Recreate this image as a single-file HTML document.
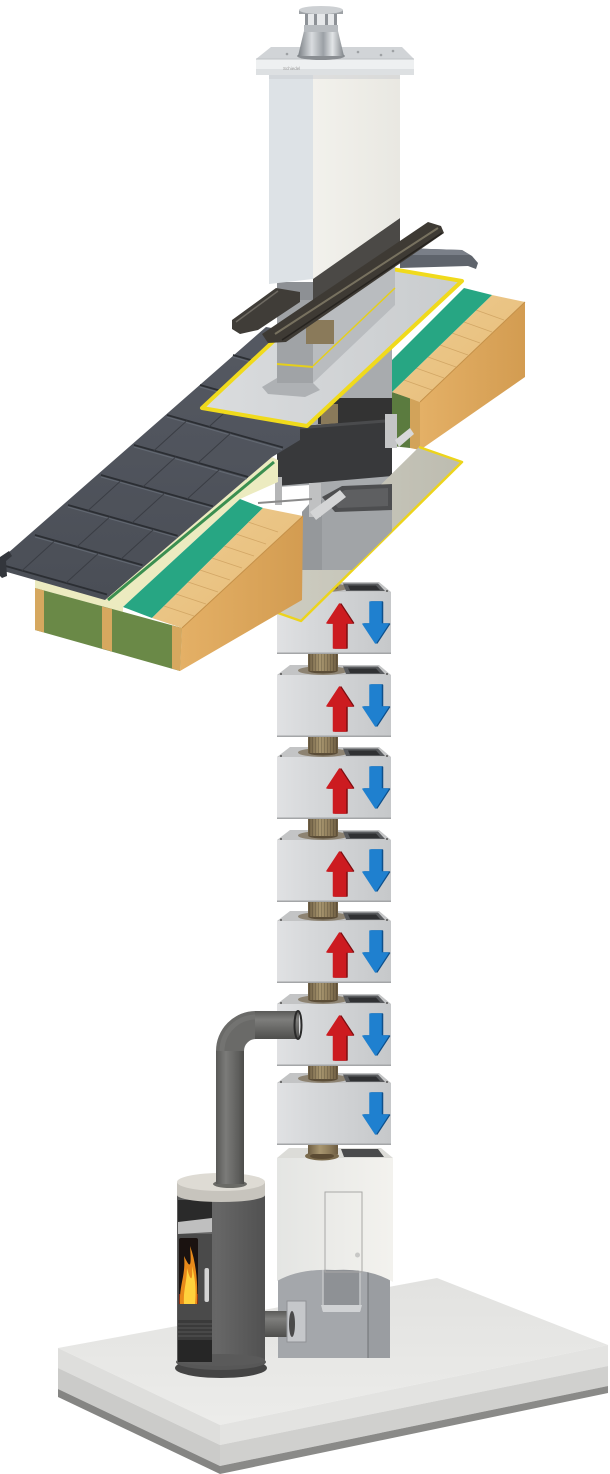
<!DOCTYPE html>
<html><head><meta charset="utf-8"><title>Chimney system</title>
<style>html,body{margin:0;padding:0;background:#fff;}svg{display:block;}</style></head>
<body>
<svg width="610" height="1474" viewBox="0 0 610 1474" xmlns="http://www.w3.org/2000/svg">
<defs>
<linearGradient id="gSlab" x1="0" y1="0" x2="0" y2="1"><stop offset="0" stop-color="#e2e2e0"/><stop offset="1" stop-color="#ececea"/></linearGradient>
<linearGradient id="gBlk" x1="0" y1="0" x2="1" y2="0"><stop offset="0" stop-color="#e0e1e3"/><stop offset=".3" stop-color="#d6d8da"/><stop offset="1" stop-color="#c6c8ca"/></linearGradient>
<linearGradient id="gPipe" x1="0" y1="0" x2="1" y2="0"><stop offset="0" stop-color="#6e5e43"/><stop offset=".4" stop-color="#a8966f"/><stop offset=".7" stop-color="#8f7d5b"/><stop offset="1" stop-color="#6b5b40"/></linearGradient>
<pattern id="rib" width="3" height="10" patternUnits="userSpaceOnUse"><rect width="1" height="10" fill="#000" opacity=".16"/></pattern>
<linearGradient id="gWoodTop" x1="0" y1="0" x2="1" y2="1"><stop offset="0" stop-color="#efcc90"/><stop offset="1" stop-color="#e5bb77"/></linearGradient>
<linearGradient id="gWoodFront" x1="0" y1="0" x2="1" y2="0"><stop offset="0" stop-color="#e4b066"/><stop offset="1" stop-color="#d39c51"/></linearGradient>
<linearGradient id="gBody" x1="0" y1="0" x2="1" y2="0"><stop offset="0" stop-color="#f2f1ec"/><stop offset="1" stop-color="#e9e8e2"/></linearGradient>
<linearGradient id="gCowl" x1="0" y1="0" x2="1" y2="0"><stop offset="0" stop-color="#7b8085"/><stop offset=".3" stop-color="#d9dcdf"/><stop offset=".55" stop-color="#9ba0a5"/><stop offset=".75" stop-color="#e2e5e7"/><stop offset="1" stop-color="#80858a"/></linearGradient>
<linearGradient id="gStove" x1="0" y1="0" x2="1" y2="0"><stop offset="0" stop-color="#5a5a5a"/><stop offset=".45" stop-color="#676767"/><stop offset="1" stop-color="#515151"/></linearGradient>
<linearGradient id="gPlate" x1="0" y1="0" x2="1" y2="0"><stop offset="0" stop-color="#dadcde"/><stop offset="1" stop-color="#c9ccce"/></linearGradient>
<linearGradient id="gLPlate" x1="0" y1="0" x2="1" y2="0"><stop offset="0" stop-color="#cfcec2"/><stop offset="1" stop-color="#bdbcb0"/></linearGradient>
<linearGradient id="gPH" x1="0" y1="0" x2="0" y2="1"><stop offset="0" stop-color="#5a5a58"/><stop offset=".3" stop-color="#7e7e7c"/><stop offset=".7" stop-color="#636361"/><stop offset="1" stop-color="#4e4e4c"/></linearGradient>
<linearGradient id="gPV" x1="0" y1="0" x2="1" y2="0"><stop offset="0" stop-color="#595957"/><stop offset=".35" stop-color="#7b7b79"/><stop offset=".8" stop-color="#5e5e5c"/><stop offset="1" stop-color="#4c4c4a"/></linearGradient>
<linearGradient id="gWhite" x1="0" y1="0" x2="1" y2="0"><stop offset="0" stop-color="#e4e5e3"/><stop offset="1" stop-color="#f3f2ee"/></linearGradient>
<linearGradient id="gTiles" x1="0" y1="0" x2="0" y2="1"><stop offset="0" stop-color="#555962"/><stop offset="1" stop-color="#4a4e56"/></linearGradient>

<g id="blk">
 <polygon points="277,10 290,0 379,0 391,10" fill="#c3c4c5"/>
 <ellipse cx="323" cy="5.5" rx="25" ry="4.5" fill="#8d8372"/>
 <ellipse cx="323" cy="5.5" rx="15" ry="3" fill="#5b4d37"/>
 <polygon points="343,1.5 378,1.5 385,9 346,9" fill="#595b5e"/>
 <polygon points="348,3.5 376,3.5 380,8 350,8" fill="#303133"/>
 <circle cx="281" cy="9" r="1" fill="#555"/><circle cx="387" cy="9" r="1" fill="#555"/>
 <rect x="277" y="10" width="114" height="62" fill="url(#gBlk)"/>
 <rect x="277" y="70.5" width="114" height="1.5" fill="#a4a6a8"/>
</g>
<g id="ra">
 <polygon points="341,22 353.5,41 347,41 347,66 335,66 335,41 328.5,41" fill="#7d0d10" stroke="#7d0d10" stroke-width="1.5" stroke-linejoin="round"/>
 <polygon points="339.5,22 352,41 345.5,41 345.5,66 333.5,66 333.5,41 327,41" fill="#cc1b20" stroke="#cc1b20" stroke-width="1.5" stroke-linejoin="round"/>
</g>
<g id="ba">
 <polygon points="371.5,20 382.5,20 382.5,42 389.5,42 377,61 364.5,42 371.5,42" fill="#0e4f8a" stroke="#0e4f8a" stroke-width="1.5" stroke-linejoin="round"/>
 <polygon points="370,20 381,20 381,42 388,42 375.5,61 363,42 370,42" fill="#1f80cf" stroke="#1f80cf" stroke-width="1.5" stroke-linejoin="round"/>
</g>
</defs>

<!-- Floor slab -->
<polygon points="58,1348 437,1278 608,1345 220,1425" fill="url(#gSlab)"/>
<polygon points="58,1348 220,1425 220,1445 58,1368" fill="#dededc"/>
<polygon points="58,1368 220,1445 220,1466 58,1389" fill="#cbcbc9"/>
<polygon points="58,1389 220,1466 220,1474 58,1397" fill="#858583"/>
<polygon points="220,1425 608,1345 608,1366 220,1445" fill="#e3e3e1"/>
<polygon points="220,1445 608,1366 608,1386 220,1466" fill="#d0d0ce"/>
<polygon points="220,1466 608,1386 608,1393 220,1474" fill="#8a8a88"/>

<!-- Base block (cleanout) -->
<rect x="278" y="1262" width="112" height="96" fill="#a4a7ab"/>
<rect x="368" y="1262" width="22" height="96" fill="#9a9da1"/>
<line x1="368" y1="1262" x2="368" y2="1358" stroke="#6f7275" stroke-width="1"/>
<rect x="323" y="1265" width="37" height="45" fill="#8e9195" stroke="#c4c6c8" stroke-width="1.5"/>
<polygon points="321,1305 362,1305 360,1312 323,1312" fill="#d0d2d4"/>
<path d="M277,1158 L393,1158 L393,1282 Q370,1268 335,1270 Q300,1268 277,1281 Z" fill="url(#gWhite)"/>
<polygon points="277,1158 289,1148 381,1148 393,1158" fill="#dcdcd8"/>
<ellipse cx="322" cy="1156" rx="17" ry="4.5" fill="#7a6a4c"/>
<ellipse cx="322" cy="1156" rx="12" ry="3" fill="#5b4b33"/>
<polygon points="341,1149 378,1149 384,1157 344,1157" fill="#4a4b4c"/>
<rect x="325" y="1192" width="37" height="80" fill="none" stroke="#a8a8a6" stroke-width="1"/>
<circle cx="357.5" cy="1255" r="2.5" fill="#c8c8c6"/>

<!-- stove to base pipe -->
<rect x="262" y="1311" width="30" height="26" fill="url(#gPH)"/>
<rect x="287" y="1301" width="19" height="41" fill="#c5c7ca" stroke="#8f9295" stroke-width="1"/>
<ellipse cx="292" cy="1324" rx="3" ry="13" fill="#4a4a4a"/>

<!-- Stove -->
<ellipse cx="221" cy="1368" rx="46" ry="10" fill="#444"/>
<ellipse cx="221" cy="1362" rx="45" ry="8" fill="#575757"/>
<rect x="177" y="1190" width="88" height="170" fill="url(#gStove)"/>
<ellipse cx="221" cy="1360" rx="44" ry="6" fill="#5a5a5a"/>
<rect x="178" y="1200" width="34" height="30" fill="#2a2a2a"/>
<polygon points="178,1222 212,1218 212,1232 178,1234" fill="#bfbfbf"/>
<rect x="178" y="1234" width="34" height="86" fill="#4a4a4a"/>
<rect x="179" y="1238" width="19" height="66" rx="2" fill="#1a1210"/>
<rect x="179" y="1294" width="19" height="10" fill="#8a2a10"/>
<path d="M180,1304 C179,1285 186,1275 184,1256 C189,1266 192,1272 190,1246 C196,1262 198,1282 197,1304 Z" fill="#e88a1a"/>
<path d="M184,1304 C183,1290 187,1282 187,1268 C190,1280 193,1284 192,1266 C196,1282 196,1292 195,1304 Z" fill="#ffd23c"/>
<rect x="204.5" y="1268" width="4.5" height="34" rx="2" fill="#d3d3d3"/>
<rect x="178" y="1320" width="34" height="20" fill="#3a3a3a"/>
<g stroke="#555" stroke-width="1"><line x1="178" y1="1324" x2="212" y2="1324"/><line x1="178" y1="1328" x2="212" y2="1328"/><line x1="178" y1="1332" x2="212" y2="1332"/><line x1="178" y1="1336" x2="212" y2="1336"/></g>
<rect x="178" y="1340" width="34" height="22" fill="#262626"/>
<path d="M177,1182 L177,1195 A44,7 0 0 0 265,1195 L265,1182 Z" fill="#c7c4bd"/>
<ellipse cx="221" cy="1182" rx="44" ry="9" fill="#dedbd4"/>
<ellipse cx="230" cy="1184" rx="17" ry="4" fill="#6a6a66"/>

<!-- Blocks -->
<use href="#blk" transform="translate(0,582)"/>
<use href="#blk" transform="translate(0,665)"/>
<use href="#blk" transform="translate(0,747)"/>
<use href="#blk" transform="translate(0,830)"/>
<use href="#blk" transform="translate(0,911)"/>
<use href="#blk" transform="translate(0,994)"/>
<use href="#blk" transform="translate(0,1073)"/>
<use href="#ra" transform="translate(0,582)"/><use href="#ba" transform="translate(0,582)"/>
<use href="#ra" transform="translate(0,665)"/><use href="#ba" transform="translate(0,665)"/>
<use href="#ra" transform="translate(0,747)"/><use href="#ba" transform="translate(0,747)"/>
<use href="#ra" transform="translate(0,830)"/><use href="#ba" transform="translate(0,830)"/>
<use href="#ra" transform="translate(0,911)"/><use href="#ba" transform="translate(0,911)"/>
<use href="#ra" transform="translate(0,994)"/><use href="#ba" transform="translate(0,994)"/>
<use href="#ba" transform="translate(0,1073)"/>

<!-- flue pipes between blocks -->
<g>
<rect x="308" y="654" width="30" height="17" fill="url(#gPipe)"/><rect x="308" y="654" width="30" height="17" fill="url(#rib)"/>
<rect x="308" y="737" width="30" height="16" fill="url(#gPipe)"/><rect x="308" y="737" width="30" height="16" fill="url(#rib)"/>
<rect x="308" y="819" width="30" height="17" fill="url(#gPipe)"/><rect x="308" y="819" width="30" height="17" fill="url(#rib)"/>
<rect x="308" y="902" width="30" height="15" fill="url(#gPipe)"/><rect x="308" y="902" width="30" height="15" fill="url(#rib)"/>
<rect x="308" y="983" width="30" height="17" fill="url(#gPipe)"/><rect x="308" y="983" width="30" height="17" fill="url(#rib)"/>
<rect x="308" y="1066" width="30" height="13" fill="url(#gPipe)"/><rect x="308" y="1066" width="30" height="13" fill="url(#rib)"/>
<rect x="308" y="1145" width="30" height="9" fill="url(#gPipe)"/>
<rect x="308" y="568" width="30" height="20" fill="url(#gPipe)"/><rect x="308" y="568" width="30" height="20" fill="url(#rib)"/>
</g>

<!-- connector pipe stove -> block 6 -->
<rect x="216" y="1050" width="28" height="134" fill="url(#gPV)"/>
<path d="M256,1025 A26,26 0 0 0 230,1051" fill="none" stroke="#6a6a68" stroke-width="28"/>
<path d="M256,1017 A34,34 0 0 0 222,1051" fill="none" stroke="#7a7a78" stroke-width="5" opacity=".6"/>
<rect x="255" y="1011" width="44" height="28" fill="url(#gPH)"/>
<ellipse cx="298" cy="1025" rx="3.5" ry="14" fill="none" stroke="#2a2a2a" stroke-width="2"/>

<!-- Column background inside roof -->
<rect x="277" y="283" width="115" height="222" fill="#a8abae"/>

<!-- right roof parts -->
<polygon points="392,392 410,398 410,448 392,446" fill="#5b7b3f"/>
<polygon points="410,398 420,402 420,450 410,448" fill="#d2a35a"/>
<polygon points="420,402 525,302 525,377 420,450" fill="url(#gWoodFront)"/>
<polygon points="392,392 492,295 525,302 420,402" fill="url(#gWoodTop)"/>
<g stroke="#c89a58" stroke-width=".8" opacity=".7">
<line x1="404" y1="380" x2="432" y2="390"/><line x1="416" y1="368" x2="444" y2="378"/><line x1="428" y1="357" x2="456" y2="367"/><line x1="440" y1="345" x2="468" y2="355"/><line x1="452" y1="333" x2="480" y2="343"/><line x1="464" y1="322" x2="492" y2="332"/><line x1="476" y1="310" x2="504" y2="320"/>
</g>
<line x1="420" y1="402" x2="525" y2="302" stroke="#c5914a" stroke-width="1"/>
<polygon points="392,360 464,288 492,295 392,392" fill="#27a683"/>

<!-- insulation area -->
<rect x="318" y="398" width="74" height="26" fill="#333"/>
<rect x="321" y="404" width="17" height="22" fill="#8a7a5a"/>
<polygon points="277,428 392,419 392,476 277,486" fill="#38393b"/>
<polygon points="277,428 392,419 392,422 277,431" fill="#4a4b4d"/>
<rect x="385" y="414" width="12" height="34" fill="#c4c5c6"/>
<polygon points="395,440 410,428 414,434 399,447" fill="#d8d9da"/>

<!-- lower plate -->
<polygon points="258,606 301,621 462,462 419,447" fill="url(#gLPlate)"/>
<polyline points="258,606 301,621 462,462 419,447" fill="none" stroke="#ecd41c" stroke-width="2.5" stroke-linejoin="round"/>

<!-- lower column front over plate -->
<polygon points="302,505 392,484 392,531 352,570 302,570" fill="#a1a4a7"/>
<polygon points="302,505 322,500 322,570 302,570" fill="#95989b"/>
<polygon points="322,497 342,486 392,484 392,510 335,512" fill="#4d4e50"/>
<polygon points="330,498 345,490 388,488 388,506 338,508" fill="#5e5f61"/>
<polygon points="279,487 310,485 310,503 300,514 268,508 279,500" fill="#ffffff"/>
<rect x="275" y="477" width="7" height="28" fill="#b5b6b7"/>
<rect x="309" y="483" width="12" height="34" fill="#c0c1c2"/>
<line x1="258" y1="503" x2="312" y2="499" stroke="#8a8a8a" stroke-width="2"/>
<polygon points="310,512 340,490 346,497 316,520" fill="#d4d5d6"/>

<!-- left roof layers -->
<polygon points="35,576 103,597 272,457 278,460 278,482 240,499 123,607 123,612 35,588" fill="#ecebc0"/>
<line x1="108" y1="600" x2="274" y2="462" stroke="#3b8f50" stroke-width="3"/>
<polygon points="35,588 182,628 180,671 35,630" fill="#6a8947"/>
<polygon points="35,588 44,590.5 44,632.5 35,630" fill="#d6a85f"/>
<polygon points="102,606.5 112,609 112,651.5 102,648.5" fill="#d6a85f"/>
<polygon points="172,625.5 182,628 180,671 172,668.5" fill="#d6a85f"/>
<polygon points="123,607 240,499 263,508 152,618" fill="#27a683"/>
<polygon points="152,618 263,508 303,516 182,628" fill="url(#gWoodTop)"/>
<g stroke="#c89a58" stroke-width=".8" opacity=".7">
<line x1="164" y1="606" x2="194" y2="616"/><line x1="176" y1="594" x2="206" y2="604"/><line x1="188" y1="582" x2="218" y2="592"/><line x1="200" y1="570" x2="230" y2="580"/><line x1="212" y1="558" x2="242" y2="568"/><line x1="224" y1="546" x2="254" y2="556"/><line x1="236" y1="534" x2="266" y2="544"/><line x1="248" y1="522" x2="278" y2="532"/>
</g>
<polygon points="182,628 303,516 302,600 180,671" fill="url(#gWoodFront)"/>
<line x1="182" y1="628" x2="303" y2="516" stroke="#c5914a" stroke-width="1"/>

<!-- tiles -->
<polygon points="0,560 266,327 300,333 300,440 272,457 105,600 0,570" fill="url(#gTiles)"/>
<g stroke="#2b2e33" stroke-width="1.8">
<line x1="2" y1="565" x2="107" y2="594.5"/>
<line x1="35" y1="535" x2="142.4" y2="565.1"/>
<line x1="68" y1="505" x2="177.6" y2="535.7"/>
<line x1="101" y1="475" x2="212.8" y2="506.3"/>
<line x1="134" y1="445" x2="248" y2="476.9"/>
<line x1="167" y1="415" x2="283" y2="447.5"/>
<line x1="200" y1="385" x2="300" y2="413"/>
<line x1="233" y1="355" x2="300" y2="373.8"/>
</g>
<g stroke="#6b727c" stroke-width="1" opacity=".7">
<line x1="35" y1="537" x2="142" y2="567"/><line x1="68" y1="507" x2="177" y2="537.5"/><line x1="101" y1="477" x2="212" y2="508"/><line x1="134" y1="447" x2="247" y2="479"/><line x1="167" y1="417" x2="282" y2="449.5"/><line x1="200" y1="387" x2="300" y2="415"/><line x1="233" y1="357" x2="300" y2="376"/>
</g>
<g stroke="#3a3d44" stroke-width="1">
<line x1="22" y1="570.6" x2="55" y2="540.6"/><line x1="66" y1="582.9" x2="99" y2="552.9"/>
<line x1="77" y1="546.8" x2="110" y2="516.8"/><line x1="121" y1="559.1" x2="154" y2="529.1"/>
<line x1="88" y1="510.6" x2="121" y2="480.6"/><line x1="132" y1="522.9" x2="165" y2="492.9"/>
<line x1="143" y1="486.8" x2="176" y2="456.8"/><line x1="187" y1="499.1" x2="220" y2="469.1"/>
<line x1="154" y1="450.6" x2="187" y2="420.6"/><line x1="198" y1="462.9" x2="231" y2="432.9"/>
<line x1="209" y1="426.8" x2="242" y2="396.8"/><line x1="220" y1="390.6" x2="253" y2="360.6"/>
<line x1="264" y1="402.9" x2="297" y2="372.9"/>
</g>
<path d="M0,557 L9,551 L12,556 L6,561 L7,576 L2,578 L0,576 Z" fill="#33363c"/>

<!-- upper plate -->
<polygon points="202,408 307,426 462,281 357,263" fill="url(#gPlate)" stroke="#f0da1c" stroke-width="4" stroke-linejoin="round"/>

<!-- sleeve on plate -->
<polygon points="262,387 277,378 313,383 320,390 305,397 268,394" fill="#aeb1b4"/>
<polygon points="313,290 395,235 395,305 313,383" fill="#b9bcbf"/>
<line x1="313" y1="366" x2="395" y2="288" stroke="#e5cf1a" stroke-width="1.5"/>
<rect x="277" y="290" width="36" height="93" fill="#a0a3a6"/>
<line x1="277" y1="364" x2="313" y2="367" stroke="#e5cf1a" stroke-width="2"/>

<!-- ridge tile right -->
<polygon points="400,248 462,250 472,256 478,263 476,269 468,266 400,268" fill="#5f646c"/>
<polygon points="400,248 462,250 470,255 402,255" fill="#7a7f88"/>

<!-- dark area under chimney body, tray and rail -->
<polygon points="313,278 400,218 400,246 313,306" fill="#4b4946"/>
<rect x="277" y="282" width="36" height="18" fill="#8d9094"/>
<rect x="306" y="320" width="28" height="24" fill="#8a7a5a"/>
<polygon points="232,320 276,288 300,292 300,302 258,330 240,334 232,329" fill="#403d38"/>
<line x1="236" y1="322" x2="278" y2="291" stroke="#6e6a62" stroke-width="1.5"/>
<polygon points="262,334 428,222 441,226 444,233 286,342 268,343" fill="#3e3a34"/>
<line x1="275" y1="334" x2="438" y2="228" stroke="#77715f" stroke-width="2"/>
<line x1="282" y1="340" x2="442" y2="233" stroke="#26231f" stroke-width="1.5"/>

<!-- chimney body -->
<polygon points="269,72 313,72 313,279 269,284" fill="#dde2e6"/>
<polygon points="313,72 400,72 400,218 313,279" fill="url(#gBody)"/>
<rect x="269" y="75" width="131" height="4" fill="#c9ccd0" opacity=".5"/>
<!-- cap -->
<polygon points="256,59 271,47 402,47 414,59" fill="#d1d4d7"/>
<rect x="256" y="59" width="158" height="16" fill="#eef0f1"/>
<rect x="256" y="69" width="158" height="6" fill="#dde0e2"/>
<line x1="256" y1="59" x2="414" y2="59" stroke="#bfc2c5" stroke-width="1"/>
<circle cx="287" cy="54" r="1.3" fill="#9ea1a4"/><circle cx="358" cy="52" r="1.3" fill="#9ea1a4"/><circle cx="381" cy="55" r="1.3" fill="#9ea1a4"/><circle cx="393" cy="51" r="1.3" fill="#9ea1a4"/>
<text x="283" y="70" font-family="Liberation Sans, sans-serif" font-size="4.5" fill="#9a9a9a">Schiedel</text>
<!-- cowl -->
<ellipse cx="321" cy="56" rx="24" ry="4" fill="#8a8e92"/>
<polygon points="298,56 344,56 338,31 304,31" fill="url(#gCowl)"/>
<rect x="304" y="25" width="34" height="7" fill="#b8bcc0"/>
<rect x="305" y="13" width="32" height="12" fill="#e6e8ea"/>
<g fill="#8e9297"><rect x="305" y="13" width="3" height="12"/><rect x="314" y="13" width="3" height="12"/><rect x="325" y="13" width="3" height="12"/><rect x="334" y="13" width="3" height="12"/></g>
<rect x="299" y="10" width="44" height="4" fill="#9ea2a6"/>
<ellipse cx="321" cy="10" rx="22" ry="4" fill="#cdd0d3"/>
</svg>
</body></html>
